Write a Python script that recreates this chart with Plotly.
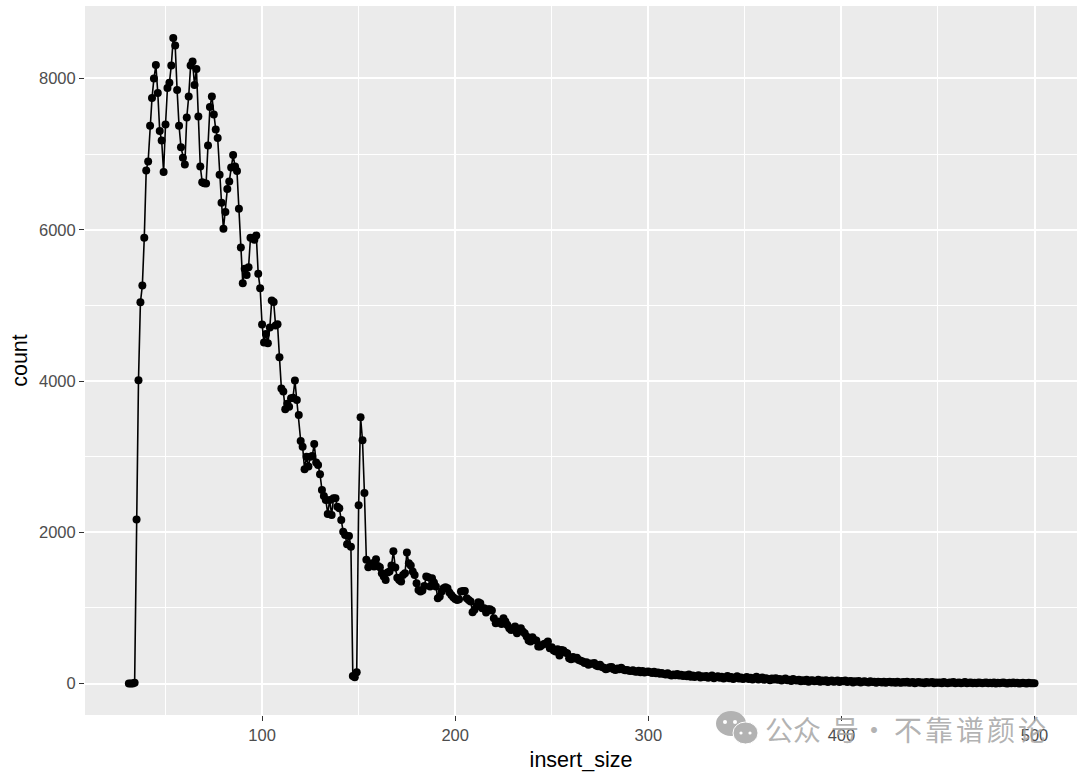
import plotly.graph_objects as go

x_first = 31
seg_rise = [0, 0, 0, 10, 2170, 4010]  # 31-36
seg_peak = [5040, 5262, 5893, 6784, 6903, 7374, 7740, 8000, 8177, 7807, 7304, 7180, 6762,
            7392, 7873, 7943, 8172, 8534, 8437, 7846, 7374, 7092, 6951, 6863, 7484, 7762,
            8172, 8225, 7913, 8125, 7497, 6836, 6629, 6616, 6610, 7114, 7622, 7762, 7524,
            7325, 7212, 6726, 6356, 6012, 6233, 6537, 6638, 6823, 6987, 6836, 6775, 6276,
            5765, 5294, 5483, 5403, 5505, 5893, 5889, 5866, 5923, 5417, 5227]  # 37-99
seg_fall = [4746, 4508, 4620, 4500, 4706, 5063, 5046, 4733, 4751, 4315, 3900, 3860, 3627,
            3700, 3661, 3772, 3780, 4005, 3750, 3551, 3208, 3132, 2833, 3000, 2870, 3000,
            3010, 3168, 2921, 2890, 2767, 2560, 2480, 2427, 2242, 2427, 2229, 2450, 2450,
            2339, 2317, 2163, 2008, 1964, 1841, 1951, 1810]  # 100-146
seg_spike = [100, 82, 148, 2357, 3521, 3217, 2520, 1638, 1537]  # 147-155
seg_mid = [1567, 1590, 1546, 1643, 1555, 1537, 1458, 1414, 1370, 1467, 1480, 1560, 1749,
           1533, 1400, 1370, 1348, 1436, 1458, 1731, 1590, 1560, 1480, 1436, 1326, 1238,
           1216, 1230, 1290, 1414, 1405, 1282, 1392, 1335, 1282, 1128, 1150, 1216, 1260,
           1273, 1260, 1203, 1172, 1141, 1119, 1105, 1114, 1216, 1225, 1225, 1128, 1105,
           1083, 943, 974, 1018, 1074, 1061, 996, 996, 938, 982, 982, 965]  # 156-219
seg_220 = [863, 797, 819, 806, 788, 863, 819, 775, 731, 709, 731, 753, 665, 709, 731, 687, 665, 621,
           568, 555, 612, 577, 568, 489, 489, 511, 524, 533, 555, 467, 480, 436, 423, 454, 370, 444,
           436, 410, 401, 335, 322]  # 220-260
seg_261 = [350, 330, 340, 310, 300, 290, 270, 280, 250, 265]  # 261-270
seg_271 = [260, 270, 240, 230, 250, 220, 210, 190, 200, 215, 220, 190, 180, 200, 190, 210, 185, 175, 180,
           170, 165, 175, 160, 155, 170, 150, 165, 145, 155, 160]
seg_301 = [150, 140, 155, 135, 145, 130, 140, 125, 120, 135, 115, 105, 120, 110, 125, 105, 115, 100, 110, 95,
           120, 90, 105, 85, 100, 110, 80, 95, 85, 100, 75, 90, 105, 70, 85, 95, 75, 90, 65, 80, 100, 70, 85,
           60, 75, 95, 65, 80, 60, 70]
seg_351 = [85, 60, 75, 55, 70, 90, 55, 65, 80, 50, 70, 60, 45, 65, 55, 70, 50, 60, 40, 55, 65, 45, 50, 35, 60,
           45, 40, 50, 30, 45, 35, 50, 25, 40, 45, 30, 35, 50, 25, 40, 30, 45, 20, 35, 40, 25, 30, 40, 20, 35]
seg_401 = [30, 40, 20, 30, 35, 15, 30, 25, 35, 15, 25, 30, 20, 15, 30, 20, 25, 10, 25, 20, 15, 25, 10, 20, 25,
           15, 20, 10, 25, 15, 10, 20, 15, 25, 10, 15, 20, 5, 15, 20, 10, 15, 5, 20, 10, 15, 20, 5, 15, 10]
seg_451 = [15, 5, 20, 10, 5, 15, 10, 20, 5, 10, 15, 5, 10, 20, 5, 10, 15, 5, 10, 5, 15, 10, 5, 10, 15, 5, 10, 5,
           15, 0, 10, 5, 10, 15, 5, 0, 10, 5, 15, 5, 10, 0, 5, 10, 5, 0, 10, 5, 5, 3]

counts = (seg_rise + seg_peak + seg_fall + seg_spike + seg_mid + seg_220 + seg_261
          + seg_271 + seg_301 + seg_351 + seg_401 + seg_451)
insert_size = [x_first + i for i in range(len(counts))]
x_ticks = [100, 200, 300, 400, 500]
y_ticks = [0, 2000, 4000, 6000, 8000]

fig = go.Figure(go.Scatter(
    x=insert_size, y=counts, mode="lines+markers",
    line=dict(color="black", width=1.6),
    marker=dict(color="black", size=8),
    hoverinfo="skip", showlegend=False,
))

tick_font = dict(family="Liberation Sans, Arial, sans-serif", size=16.5, color="#4D4D4D")
title_font = dict(family="Liberation Sans, Arial, sans-serif", size=21.5, color="black")

fig.update_layout(
    width=1080, height=772,
    margin=dict(l=85, r=3, t=6, b=57),
    paper_bgcolor="white", plot_bgcolor="#EBEBEB",
    xaxis=dict(
        range=[8.3, 522], tickvals=x_ticks, showline=False, zeroline=False,
        showgrid=True, gridcolor="white", gridwidth=1.5,
        ticks="outside", ticklen=5, tickwidth=1.3, tickcolor="#333333",
        tickfont=tick_font,
        title=dict(text="insert_size", font=title_font, standoff=9),
        minor=dict(tickvals=[50, 150, 250, 350, 450], showgrid=True, gridcolor="white", gridwidth=0.8, ticks=""),
    ),
    yaxis=dict(
        range=[-416, 8958], tickvals=y_ticks, showline=False, zeroline=False,
        showgrid=True, gridcolor="white", gridwidth=1.5,
        ticks="outside", ticklen=5, tickwidth=1.3, tickcolor="#333333",
        tickfont=tick_font,
        title=dict(text="count", font=title_font, standoff=5),
        minor=dict(tickvals=[1000, 3000, 5000, 7000], showgrid=True, gridcolor="white", gridwidth=0.8, ticks=""),
    ),
)

# Watermark: icon + text, placed in page pixels converted to the plot-area "paper" fractions
PLOT_L, PLOT_W, PLOT_B, PLOT_H = 85.0, 992.0, 715.0, 709.0
def px(v): return (v - PLOT_L) / PLOT_W
def py(v): return (PLOT_B - v) / PLOT_H

mark = "#B2B2B2"
def ell(x0, y0, x1, y1, color, line=None):
    fig.add_shape(type="circle", xref="paper", yref="paper",
                  x0=px(x0), x1=px(x1), y0=py(y1), y1=py(y0),
                  fillcolor=color, line=dict(width=1 if line else 0, color=line or color), layer="above")

ell(716, 711, 746, 736, mark)
ell(733, 722, 758, 744, mark, line="white")
for cx, cy, r in [(725, 722, 2), (735, 722, 2), (741, 733, 1.6), (750, 733, 1.6)]:
    ell(cx - r, cy - r, cx + r, cy + r, "white")

wm_chars = [("公", 779), ("众", 807), ("号", 845), ("·", 874), ("不", 908), ("靠", 939), ("谱", 970), ("颜", 1001), ("论", 1032)]
for ch, cx in wm_chars:
    fig.add_annotation(x=px(cx), y=py(729), xref="paper", yref="paper", text=ch, showarrow=False,
                       xanchor="center", yanchor="middle",
                       font=dict(family="Noto Sans CJK SC", size=28, color="rgba(165,165,165,0.85)"))

fig.write_html("out.html", config={"displayModeBar": False}, post_script="document.body.style.margin='0';")
